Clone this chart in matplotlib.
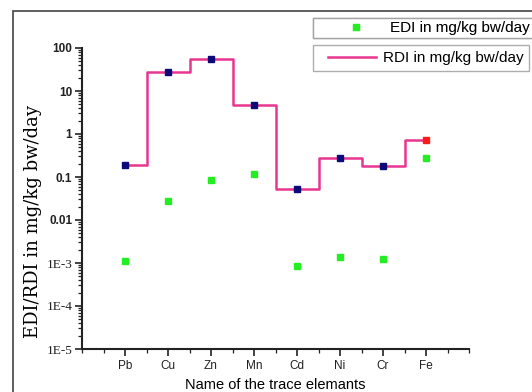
import matplotlib
matplotlib.use("Agg")
import matplotlib.pyplot as plt
from matplotlib.lines import Line2D
from matplotlib.patches import Rectangle
from matplotlib.legend_handler import HandlerLine2D
from matplotlib.ticker import LogLocator, MultipleLocator, NullFormatter

elements = ["Pb", "Cu", "Zn", "Mn", "Cd", "Ni", "Cr", "Fe"]
edi = [1.1e-3, 0.027, 0.085, 0.12, 8.5e-4, 1.4e-3, 1.25e-3, 0.28]
rdi = [0.19, 28, 55, 4.8, 0.053, 0.28, 0.18, 0.72]
ytick_vals = [1e-5, 1e-4, 1e-3, 0.01, 0.1, 1, 10, 100]
ytick_labels = ["1E-5", "1E-4", "1E-3", "0.01", "0.1", "1", "10", "100"]

plt.rcParams["font.family"] = ["Liberation Sans", "DejaVu Sans"]

fig = plt.figure(figsize=(5.32, 3.92), dpi=100)
ax = fig.add_axes([82 / 532, 1 - 349 / 392, (469 - 82) / 532, (349 - 48) / 392])

x = list(range(1, len(elements) + 1))

# RDI step line and markers
ax.plot(x, rdi, drawstyle="steps-mid", color="#e8358f", lw=1.8, zorder=2)
ax.plot(x[:-1], rdi[:-1], "s", color="#0a0a78", ms=5, zorder=3)
ax.plot(x[-1:], rdi[-1:], "s", color="#ff1a1a", ms=5, zorder=3)
# EDI points
ax.plot(x, edi, "s", color="#22ee22", ms=5, lw=0, zorder=3)

ax.set_yscale("log")
ax.set_ylim(1e-5, 100)
ax.set_xlim(0, 9)

ax.set_xticks(x)
ax.set_xticklabels(elements, fontsize=8.5)
ax.xaxis.set_minor_locator(MultipleLocator(0.5))
ax.set_yticks(ytick_vals)
ax.set_yticklabels(ytick_labels)
ax.yaxis.set_minor_locator(LogLocator(base=10, subs=range(2, 10), numticks=20))
ax.yaxis.set_minor_formatter(NullFormatter())
for lbl, txt in zip(ax.get_yticklabels(), ytick_labels):
    if "E" in txt:
        lbl.set_family(["Liberation Serif", "DejaVu Serif"])
        lbl.set_fontsize(9.5)
    else:
        lbl.set_fontweight("bold")
        lbl.set_fontsize(8.5)

ax.tick_params(axis="both", which="major", direction="out", length=5, width=1.2, colors="#222222")
ax.tick_params(axis="both", which="minor", direction="out", length=3, width=0.9, colors="#222222")
ax.tick_params(axis="x", which="major", pad=3)
ax.tick_params(axis="y", which="major", pad=2)

for side in ["top", "right"]:
    ax.spines[side].set_visible(False)
for side in ["left", "bottom"]:
    ax.spines[side].set_linewidth(1.5)
    ax.spines[side].set_color("#222222")

ax.set_xlabel("Name of the trace elemants", fontsize=10.5, labelpad=4)
# y label sits a bit below the axes centre in the original
fig.text(33 / 532, 1 - 221 / 392, "EDI/RDI in mg/kg bw/day", rotation=90,
         ha="center", va="center", fontsize=13,
         family=["DejaVu Serif", "Liberation Serif"])

# two separate legend boxes
h_edi = Line2D([], [], marker="s", color="#22ee22", lw=0, ms=5)
h_rdi = Line2D([], [], color="#e8358f", lw=1.8)
leg1 = fig.legend([h_edi], ["EDI in mg/kg bw/day"], loc="upper left",
                  bbox_to_anchor=(313 / 532, 1 - 18 / 392), fontsize=11,
                  frameon=True, fancybox=False, edgecolor="#999999",
                  handlelength=4.8, handletextpad=0.05, borderpad=0.2,
                  borderaxespad=0,
                  handler_map={h_edi: HandlerLine2D(xpad=0.37)})
leg2 = fig.legend([h_rdi], ["RDI in mg/kg bw/day"], loc="upper left",
                  bbox_to_anchor=(313 / 532, 1 - 45 / 392), fontsize=11,
                  frameon=True, fancybox=False, edgecolor="#999999",
                  handlelength=3.75, handletextpad=0.4, borderpad=0.4,
                  borderaxespad=0,
                  handler_map={h_rdi: HandlerLine2D(xpad=0.55)})
fig.add_artist(leg1)
leg1.get_frame().set_linewidth(1.0)
leg2.get_frame().set_linewidth(1.0)

# outer frame
fig.patches.append(Rectangle((13 / 532, -0.05), 1.0, 1 - 11 / 392 + 0.05,
                             transform=fig.transFigure, fill=False,
                             edgecolor="#444444", lw=1.2, clip_on=False))

fig.savefig("out.png", dpi=100)
